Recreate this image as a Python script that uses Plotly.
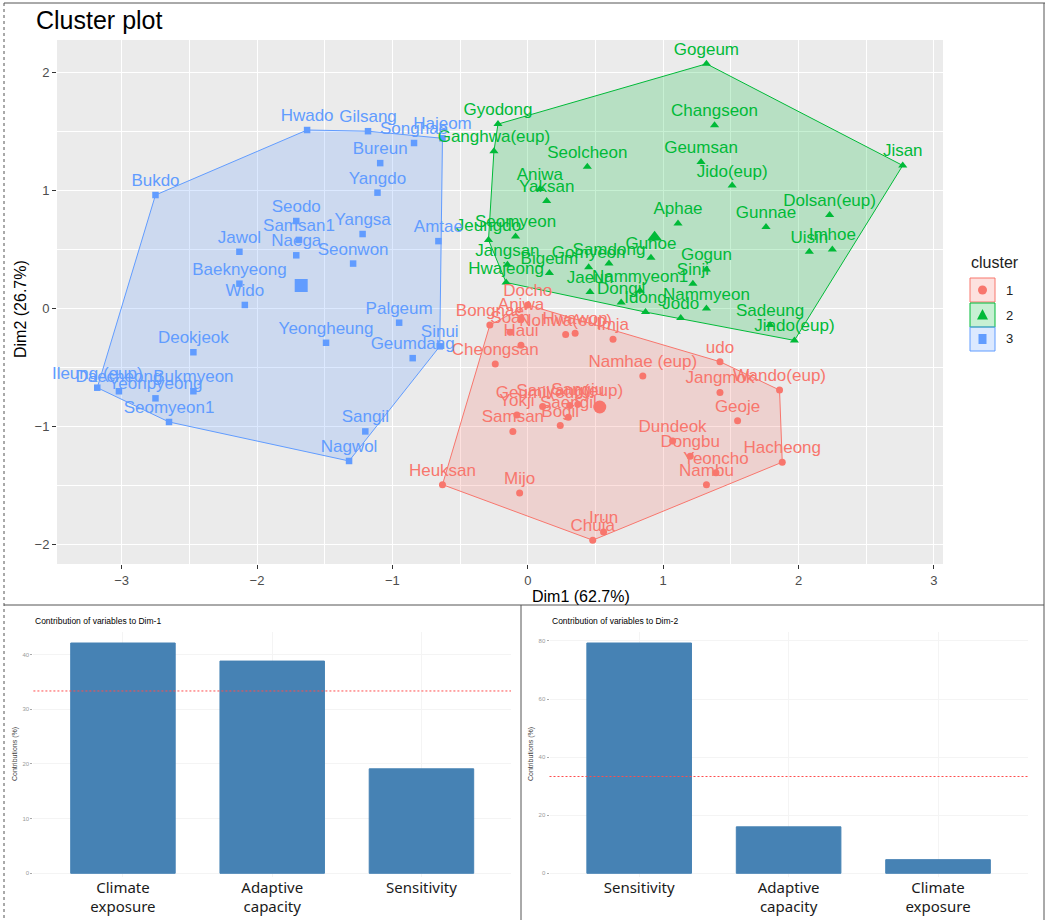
import plotly.graph_objects as go

W, H = 1054, 920

# ---------------- data ----------------
# cluster 1 (red, circles)
c1_names = ["Docho", "Bongnae", "Anjwa", "Soan", "Haui", "Nohwa(eup)", "Hwawon", "Imja",
            "Cheongsan", "Namhae (eup)", "Sangju", "Sanyang(eup)", "Yokji", "Geumil(eup)",
            "Bogil", "Saengil", "Samsan", "udo", "Jangmok", "Wando(eup)", "Geoje", "Dundeok",
            "Dongbu", "Yeoncho", "Nambu", "Hacheong", "Heuksan", "Mijo", "Irun", "Chuja"]
c1_x = [0.00, -0.28, -0.05, -0.13, -0.05, 0.28, 0.35, 0.63,
        -0.24, 0.85, 0.37, 0.31, -0.08, 0.11,
        0.24, 0.30, -0.11, 1.42, 1.42, 1.86, 1.55, 1.07,
        1.20, 1.39, 1.32, 1.88, -0.63, -0.06, 0.56, 0.48]
c1_y = [0.03, -0.14, -0.09, -0.20, -0.31, -0.22, -0.21, -0.26,
        -0.47, -0.57, -0.81, -0.82, -0.90, -0.83,
        -0.99, -0.92, -1.04, -0.45, -0.71, -0.69, -0.95, -1.12,
        -1.25, -1.39, -1.49, -1.30, -1.49, -1.56, -1.89, -1.96]

# cluster 2 (green, triangles)
c2_names = ["Gogeum", "Gyodong", "Ganghwa(eup)", "Changseon", "Seolcheon", "Geumsan", "Jido(eup)",
            "Jisan", "Aniwa", "Yaksan", "Dolsan(eup)", "Aphae", "Gunnae", "Seomyeon", "Jeungdo",
            "Uisin", "Imhoe", "Jangsan", "Bigeum", "Gomyeon", "Samdong", "Gunoe", "Gogun", "Sinji",
            "Hwajeong", "Jaeun", "Nammyeon1", "Dongil", "Idong", "Jodo", "Nammyeon", "Sadeung",
            "Jindo(eup)"]
c2_x = [1.32, -0.22, -0.25, 1.38, 0.44, 1.28, 1.51,
        2.77, 0.09, 0.14, 2.23, 1.11, 1.76, -0.09, -0.29,
        2.08, 2.25, -0.15, 0.16, 0.45, 0.60, 0.91, 1.32, 1.22,
        -0.16, 0.46, 0.83, 0.69, 0.87, 1.13, 1.32, 1.79,
        1.97]
c2_y = [2.07, 1.56, 1.33, 1.55, 1.20, 1.24, 1.04,
        1.21, 1.01, 0.91, 0.79, 0.72, 0.69, 0.61, 0.58,
        0.48, 0.50, 0.37, 0.30, 0.35, 0.38, 0.43, 0.33, 0.21,
        0.22, 0.14, 0.15, 0.05, -0.03, -0.08, 0.00, -0.14,
        -0.27]

# cluster 3 (blue, squares)
c3_names = ["Hwado", "Gilsang", "Songhae", "Hajeom", "Bureun", "Yangdo", "Bukdo", "Seodo",
            "Samsan1", "Yangsa", "Amtae", "Jawol", "Naega", "Seonwon", "Baeknyeong", "Wido",
            "Palgeum", "Yeongheung", "Sinui", "Geumdang", "Deokjeok", "Ileung (eup)", "Daecheong",
            "Yeonpyeong", "Bukmyeon", "Seomyeon1", "Sangil", "Nagwol"]
c3_x = [-1.63, -1.18, -0.84, -0.63, -1.09, -1.11, -2.75, -1.71,
        -1.69, -1.22, -0.66, -2.13, -1.71, -1.29, -2.13, -2.09,
        -0.95, -1.49, -0.65, -0.85, -2.47, -3.18, -3.02,
        -2.75, -2.47, -2.65, -1.20, -1.32]
c3_y = [1.51, 1.50, 1.40, 1.44, 1.23, 0.98, 0.96, 0.74,
        0.58, 0.63, 0.57, 0.48, 0.45, 0.38, 0.21, 0.03,
        -0.12, -0.29, -0.32, -0.42, -0.37, -0.67, -0.70,
        -0.76, -0.70, -0.96, -1.04, -1.29]

cluster_labels = ["1", "2", "3"]
dim1_pct = 62.7
dim2_pct = 26.7

dim1_vars = ["Climate exposure", "Adaptive capacity", "Sensitivity"]
dim1_contrib = [42.1, 38.8, 19.1]
dim2_vars = ["Sensitivity", "Adaptive capacity", "Climate exposure"]
dim2_contrib = [79.3, 16.0, 4.7]

# ---------------- style ----------------
COLORS = ["#F8766D", "#00BA38", "#619CFF"]
FILLS = ["rgba(248,118,109,0.22)", "rgba(0,186,56,0.22)", "rgba(97,156,255,0.22)"]
SYMBOLS = ["circle", "triangle-up", "square"]
SIZES = [7, 8, 6.5]
FONT = "Liberation Sans"
BAR = "#4682B4"


def px(x):
    return x / W


def py(y):
    return 1 - y / H


def convex_hull(xs, ys):
    pts = sorted(set(zip(xs, ys)))

    def cross(o, a, b):
        return (a[0] - o[0]) * (b[1] - o[1]) - (a[1] - o[1]) * (b[0] - o[0])

    lower = []
    for p in pts:
        while len(lower) >= 2 and cross(lower[-2], lower[-1], p) <= 0:
            lower.pop()
        lower.append(p)
    upper = []
    for p in reversed(pts):
        while len(upper) >= 2 and cross(upper[-2], upper[-1], p) <= 0:
            upper.pop()
        upper.append(p)
    h = lower[:-1] + upper[:-1]
    h.append(h[0])
    return [p[0] for p in h], [p[1] for p in h]


clusters = [(c1_names, c1_x, c1_y), (c2_names, c2_x, c2_y), (c3_names, c3_x, c3_y)]

fig = go.Figure()

# hulls
for i, (nm, xs, ys) in enumerate(clusters):
    hx, hy = convex_hull(xs, ys)
    fig.add_trace(go.Scatter(x=hx, y=hy, mode="lines", fill="toself", fillcolor=FILLS[i],
                             line=dict(color=COLORS[i], width=1), hoverinfo="skip",
                             showlegend=False, xaxis="x", yaxis="y"))
# points + centroids
for i, (nm, xs, ys) in enumerate(clusters):
    fig.add_trace(go.Scatter(x=xs, y=ys, mode="markers", name=cluster_labels[i],
                             marker=dict(symbol=SYMBOLS[i], size=SIZES[i], color=COLORS[i]),
                             showlegend=False, xaxis="x", yaxis="y"))
    cx = sum(xs) / len(xs)
    cy = sum(ys) / len(ys)
    fig.add_trace(go.Scatter(x=[cx], y=[cy], mode="markers",
                             marker=dict(symbol=SYMBOLS[i], size=13, color=COLORS[i]),
                             showlegend=False, hoverinfo="skip", xaxis="x", yaxis="y"))
# labels (an invisible marker gives the text its offset above the point)
for i, (nm, xs, ys) in enumerate(clusters):
    fig.add_trace(go.Scatter(x=xs, y=ys, mode="markers+text", text=nm, textposition="top center",
                             marker=dict(size=6, opacity=0, color=COLORS[i]),
                             textfont=dict(color=COLORS[i], size=17, family=FONT),
                             cliponaxis=False,
                             showlegend=False, hoverinfo="skip", xaxis="x", yaxis="y"))

# bars
fig.add_trace(go.Bar(x=dim1_vars, y=dim1_contrib, marker=dict(color=BAR, line=dict(color=BAR, width=1)),
                     width=0.7, showlegend=False, xaxis="x2", yaxis="y2"))
fig.add_trace(go.Bar(x=dim2_vars, y=dim2_contrib, marker=dict(color=BAR, line=dict(color=BAR, width=1)),
                     width=0.7, showlegend=False, xaxis="x3", yaxis="y3"))

# ranges (ggplot-like 5% expansion)
allx = c1_x + c2_x + c3_x
ally = c1_y + c2_y + c3_y
xr = max(allx) - min(allx)
yr = max(ally) - min(ally)
xrange = [min(allx) - 0.05 * xr, max(allx) + 0.05 * xr]
yrange = [min(ally) - 0.05 * yr, max(ally) + 0.05 * yr]

# bar panels: top at 631 px, zero at 873 px, bottom edge at 876 px
BTOP, BZERO, BBOT = 631.5, 873.3, 876.5


def bar_range(vmax):
    top = 1.05 * vmax
    lo = -(BBOT - BZERO) * top / (BZERO - BTOP)
    return [lo, top]


tickfont = dict(family=FONT, size=13, color="#4D4D4D")
barcat = dict(family="Noto Sans", size=15, color="#1A1A1A")
bartick = dict(family=FONT, size=6, color="#9A9A9A")


def two_line(lbls):
    return [l.replace(" ", "<br>") for l in lbls]


fig.update_layout(
    width=W, height=H, margin=dict(l=0, r=0, t=0, b=0),
    paper_bgcolor="white", plot_bgcolor="white",
    showlegend=False, bargap=0.3,
    xaxis=dict(domain=[px(57), px(943)], range=xrange, dtick=1, showgrid=True,
               gridcolor="white", gridwidth=1.2, zeroline=False, ticks="outside", ticklen=4,
               tickcolor="#333333", tickfont=tickfont, showline=False,
               minor=dict(dtick=0.5, showgrid=True, gridcolor="white", gridwidth=0.6), anchor="y"),
    yaxis=dict(domain=[py(564), py(40)], range=yrange, dtick=1, showgrid=True,
               gridcolor="white", gridwidth=1.2, zeroline=False, ticks="outside", ticklen=4,
               tickcolor="#333333", tickfont=tickfont, showline=False,
               minor=dict(dtick=0.5, showgrid=True, gridcolor="white", gridwidth=0.6), anchor="x"),
    xaxis2=dict(domain=[px(33.4), px(511)], range=[0.4 - 1, 3.6 - 1], anchor="y2",
                tickmode="array", tickvals=dim1_vars, ticktext=two_line(dim1_vars),
                tickfont=barcat, tickangle=0, showgrid=True, gridcolor="#F4F4F4", zeroline=False),
    yaxis2=dict(domain=[py(BBOT), py(BTOP)], range=bar_range(max(dim1_contrib)),
                anchor="x2", dtick=10, tickfont=bartick, ticks="outside", ticklen=2, tickcolor="#AAAAAA",
                showgrid=True, gridcolor="#F4F4F4", zeroline=False,
                title=dict(text="Contributions (%)", font=dict(family=FONT, size=7, color="#444444"),
                           standoff=4)),
    xaxis3=dict(domain=[px(549.5), px(1027.7)], range=[0.4 - 1, 3.6 - 1], anchor="y3",
                tickmode="array", tickvals=dim2_vars, ticktext=two_line(dim2_vars),
                tickfont=barcat, tickangle=0, showgrid=True, gridcolor="#F4F4F4", zeroline=False),
    yaxis3=dict(domain=[py(BBOT), py(BTOP)], range=bar_range(max(dim2_contrib)),
                anchor="x3", dtick=20, tickfont=bartick, ticks="outside", ticklen=2, tickcolor="#AAAAAA",
                showgrid=True, gridcolor="#F4F4F4", zeroline=False,
                title=dict(text="Contributions (%)", font=dict(family=FONT, size=7, color="#444444"),
                           standoff=4)),
)

shapes = []
# grey panel background for cluster plot
shapes.append(dict(type="rect", xref="x domain", yref="y domain", x0=0, x1=1, y0=0, y1=1,
                   fillcolor="#EBEBEB", line=dict(width=0), layer="below"))
# reference lines (expected contribution)
shapes.append(dict(type="line", xref="x2 domain", yref="y2", x0=0, x1=1,
                   y0=100 / len(dim1_vars), y1=100 / len(dim1_vars),
                   line=dict(color="#FF4D4D", width=1, dash="2px,2px")))
shapes.append(dict(type="line", xref="x3 domain", yref="y3", x0=0, x1=1,
                   y0=100 / len(dim2_vars), y1=100 / len(dim2_vars),
                   line=dict(color="#FF4D4D", width=1, dash="2px,2px")))
# frame lines of composite figure
frame = dict(color="#555555", width=1)
shapes += [
    dict(type="line", xref="paper", yref="paper", x0=px(4), x1=px(1045), y0=py(3), y1=py(3), line=frame),
    dict(type="line", xref="paper", yref="paper", x0=px(4), x1=px(4), y0=py(3), y1=py(920),
         line=dict(color="#555555", width=1, dash="dot")),
    dict(type="line", xref="paper", yref="paper", x0=px(1044), x1=px(1044), y0=py(3), y1=py(920), line=frame),
    dict(type="line", xref="paper", yref="paper", x0=px(4), x1=px(1044), y0=py(605), y1=py(605), line=frame),
    dict(type="line", xref="paper", yref="paper", x0=px(521), x1=px(521), y0=py(605), y1=py(920), line=frame),
]
# custom legend keys
key_cy = [290, 315, 339]
for i, cy in enumerate(key_cy):
    shapes.append(dict(type="rect", xref="paper", yref="paper", x0=px(970), x1=px(995),
                       y0=py(cy + 12), y1=py(cy - 12), fillcolor=FILLS[i],
                       line=dict(color=COLORS[i], width=1)))
cx0 = 982.5
shapes.append(dict(type="circle", xref="paper", yref="paper", x0=px(cx0 - 4.5), x1=px(cx0 + 4.5),
                   y0=py(key_cy[0] + 4.5), y1=py(key_cy[0] - 4.5), fillcolor=COLORS[0],
                   line=dict(width=0)))
shapes.append(dict(type="path", xref="paper", yref="paper",
                   path=f"M {px(cx0)} {py(key_cy[1] - 6)} L {px(cx0 + 5.5)} {py(key_cy[1] + 4.5)} "
                        f"L {px(cx0 - 5.5)} {py(key_cy[1] + 4.5)} Z",
                   fillcolor=COLORS[1], line=dict(width=0)))
shapes.append(dict(type="rect", xref="paper", yref="paper", x0=px(cx0 - 4), x1=px(cx0 + 4),
                   y0=py(key_cy[2] + 5), y1=py(key_cy[2] - 5), fillcolor=COLORS[2],
                   line=dict(width=0)))
fig.update_layout(shapes=shapes)

ann = []
ann.append(dict(text="Cluster plot", x=px(34), y=py(20), xref="paper", yref="paper",
                xanchor="left", yanchor="middle", showarrow=False,
                font=dict(family=FONT, size=25, color="black")))
ann.append(dict(text=f"Dim1 ({dim1_pct}%)", x=px(581), y=py(596), xref="paper", yref="paper",
                xanchor="center", yanchor="middle", showarrow=False,
                font=dict(family=FONT, size=16, color="black")))
ann.append(dict(text=f"Dim2 ({dim2_pct}%)", x=px(20), y=py(309), xref="paper", yref="paper",
                xanchor="center", yanchor="middle", showarrow=False, textangle=-90,
                font=dict(family=FONT, size=16, color="black")))
ann.append(dict(text="cluster", x=px(995), y=py(262), xref="paper", yref="paper",
                xanchor="center", yanchor="middle", showarrow=False,
                font=dict(family=FONT, size=16, color="#222222")))
for i, cy in enumerate(key_cy):
    ann.append(dict(text=cluster_labels[i], x=px(1004), y=py(cy), xref="paper", yref="paper",
                    xanchor="left", yanchor="middle", showarrow=False,
                    font=dict(family=FONT, size=13, color="#222222")))
ann.append(dict(text="Contribution of variables to Dim-1", x=px(33), y=py(621), xref="paper",
                yref="paper", xanchor="left", yanchor="middle", showarrow=False,
                font=dict(family=FONT, size=8.5, color="black")))
ann.append(dict(text="Contribution of variables to Dim-2", x=px(550), y=py(621), xref="paper",
                yref="paper", xanchor="left", yanchor="middle", showarrow=False,
                font=dict(family=FONT, size=8.5, color="black")))
fig.update_layout(annotations=ann)

fig.write_html("out.html", config={"displayModeBar": False},
               post_script="document.body.style.margin='0';document.body.style.overflow='hidden';")
